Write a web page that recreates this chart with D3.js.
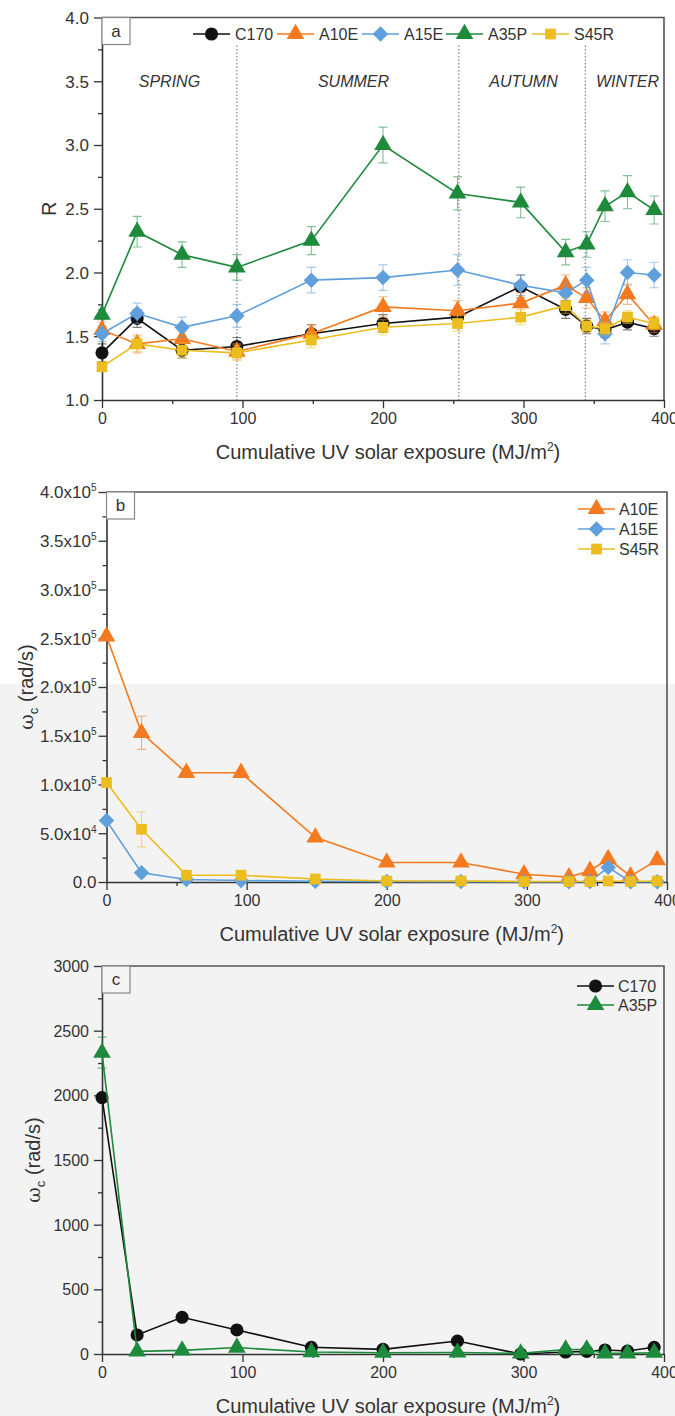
<!DOCTYPE html>
<html>
<head>
<meta charset="utf-8">
<script src="https://cdn.jsdelivr.net/npm/d3@7"></script>
<style>
  html, body { margin: 0; padding: 0; background: #fff; }
  svg { display: block; }
  text { font-family: "Liberation Sans", Arial, sans-serif; fill: #333; }
</style>
</head>
<body>
<svg id="fig" width="675" height="1416"></svg>
<script>
// ---------- data ----------
const exposure = [0, 25, 57, 96, 149, 200, 253, 298, 330, 345, 358, 374, 393];

// panel a: R
const rC170 = [1.37, 1.64, 1.39, 1.42, 1.52, 1.60, 1.65, 1.89, 1.71, 1.58, 1.55, 1.61, 1.56];
const rC170Err = [0.07, 0.07, 0.06, 0.07, 0.07, 0.07, 0.07, 0.09, 0.07, 0.06, 0.06, 0.06, 0.06];
const rA10E = [1.55, 1.44, 1.48, 1.38, 1.52, 1.73, 1.70, 1.76, 1.90, 1.80, 1.62, 1.83, 1.59];
const rA10EErr = [0.06, 0.07, 0.06, 0.06, 0.07, 0.08, 0.08, 0.08, 0.08, 0.08, 0.07, 0.08, 0.06];
const rA15E = [1.52, 1.68, 1.57, 1.66, 1.94, 1.96, 2.02, 1.90, 1.84, 1.94, 1.52, 2.00, 1.98];
const rA15EErr = [0.06, 0.08, 0.08, 0.09, 0.10, 0.10, 0.12, 0.08, 0.08, 0.10, 0.08, 0.10, 0.10];
const rA35P = [1.67, 2.32, 2.14, 2.04, 2.25, 3.00, 2.62, 2.55, 2.16, 2.22, 2.52, 2.63, 2.49];
const rA35PErr = [0.04, 0.12, 0.10, 0.10, 0.11, 0.14, 0.13, 0.12, 0.10, 0.10, 0.12, 0.13, 0.11];
const rS45R = [1.26, 1.44, 1.39, 1.37, 1.47, 1.57, 1.60, 1.65, 1.74, 1.58, 1.56, 1.65, 1.60];
const rS45RErr = [0.03, 0.06, 0.06, 0.06, 0.06, 0.06, 0.06, 0.06, 0.06, 0.05, 0.05, 0.05, 0.05];

// panel b: crossover frequency (rad/s)
const wA10E = [252000, 153000, 112000, 112000, 45800, 20000, 20000, 8000, 5000, 11500, 23600, 6000, 22500];
const wA10EErr = [0, 17000, 0, 0, 0, 0, 0, 0, 0, 0, 0, 0, 0];
const wA15E = [63000, 9500, 2500, 1500, 800, 500, 400, 300, 300, 500, 15000, 300, 300];
const wA15EErr = [0, 0, 0, 0, 0, 0, 0, 0, 0, 0, 0, 0, 0];
const wS45R = [102000, 54000, 7000, 7000, 3000, 1000, 1000, 500, 500, 500, 1000, 500, 1000];
const wS45RErr = [0, 18000, 0, 0, 0, 0, 0, 0, 0, 0, 0, 0, 0];

// panel c: crossover frequency (rad/s)
const cC170 = [1982, 147, 284, 186, 52, 36, 100, 0, 15, 20, 31, 23, 52];
const cC170Err = [0, 0, 0, 0, 0, 0, 0, 0, 0, 0, 0, 0, 0];
const cA35P = [2330, 20, 28, 50, 15, 10, 12, 5, 35, 35, 5, 5, 10];
const cA35PErr = [120, 0, 0, 0, 0, 0, 0, 0, 0, 0, 0, 0, 0];

// axes
const xTicks = [0, 100, 200, 300, 400];
const xMinor = [50, 150, 250, 350];
const rTicks = [1.0, 1.5, 2.0, 2.5, 3.0, 3.5, 4.0];
const rMinor = [1.25, 1.75, 2.25, 2.75, 3.25, 3.75];
const wTicks = [0, 50000, 100000, 150000, 200000, 250000, 300000, 350000, 400000];
const wMinor = [25000, 75000, 125000, 175000, 225000, 275000, 325000, 375000];
const cTicks = [0, 500, 1000, 1500, 2000, 2500, 3000];
const cMinor = [250, 750, 1250, 1750, 2250, 2750];

// season boundaries and labels
const seasonBounds = [96, 254, 344];
const seasonNames = ["SPRING", "SUMMER", "AUTUMN", "WINTER"];
const seasonCenters = [48, 179, 300, 374];

const xTitle = "Cumulative UV solar exposure (MJ/m";

// ---------- style ----------
const colors = { C170: "#111111", A10E: "#f47a1f", A15E: "#5f9fdc", A35P: "#1e8a3c", S45R: "#ebbd1e" };
const symbols = {
  C170: { type: d3.symbolCircle, size: 135, rot: 0 },
  A10E: { type: d3.symbolTriangle, size: 135, rot: 0 },
  A15E: { type: d3.symbolSquare, size: 120, rot: 45 },
  A35P: { type: d3.symbolTriangle, size: 135, rot: 0 },
  S45R: { type: d3.symbolSquare, size: 115, rot: 0 }
};

const svg = d3.select("#fig");

// lower part of the page carries a faint grey tint
svg.append("rect").attr("x", 0).attr("y", 684).attr("width", 675).attr("height", 732).attr("fill", "#f3f3f3");

function drawMarker(g, name, cx, cy, scale = 1) {
  const s = symbols[name];
  g.append("path")
    .attr("d", d3.symbol().type(s.type).size(s.size * scale)())
    .attr("transform", `translate(${cx},${cy}) rotate(${s.rot})`)
    .attr("fill", colors[name]);
}

function panel(cfg) {
  const g = svg.append("g");
  const x = d3.scaleLinear().domain([0, 400]).range([cfg.x0, cfg.x1]);
  const y = d3.scaleLinear().domain(cfg.yDomain).range([cfg.yBottom, cfg.yTop]);

  // frame: top and right edges
  g.append("path")
    .attr("d", `M${cfg.x0},${cfg.yTop}H${cfg.x1}V${cfg.yBottom}`)
    .attr("fill", "none").attr("stroke", "#555").attr("stroke-width", 1.6);

  // minor ticks
  g.append("g").attr("transform", `translate(0,${cfg.yBottom})`)
    .call(d3.axisBottom(x).tickValues(xMinor).tickSize(4).tickFormat(""))
    .call(a => { a.select(".domain").remove(); a.selectAll("line").attr("stroke", "#333").attr("stroke-width", 1.3); });
  g.append("g").attr("transform", `translate(${cfg.x0},0)`)
    .call(d3.axisLeft(y).tickValues(cfg.yMinor).tickSize(4).tickFormat(""))
    .call(a => { a.select(".domain").remove(); a.selectAll("line").attr("stroke", "#333").attr("stroke-width", 1.3); });

  // major axes
  const ax = g.append("g").attr("transform", `translate(0,${cfg.yBottom})`)
    .call(d3.axisBottom(x).tickValues(xTicks).tickSize(8).tickSizeOuter(0).tickPadding(5).tickFormat(d3.format("d")));
  ax.select(".domain").attr("stroke", "#333").attr("stroke-width", 1.6);
  ax.selectAll("line").attr("stroke", "#333").attr("stroke-width", 1.3);
  ax.selectAll("text").attr("font-size", 16).attr("fill", "#333")
    .attr("font-family", '"Liberation Sans", Arial, sans-serif');

  const ay = g.append("g").attr("transform", `translate(${cfg.x0},0)`)
    .call(d3.axisLeft(y).tickValues(cfg.yTicks).tickSize(8).tickSizeOuter(0).tickPadding(5).tickFormat(""));
  ay.select(".domain").attr("stroke", "#333").attr("stroke-width", 1.6);
  ay.selectAll("line").attr("stroke", "#333").attr("stroke-width", 1.3);
  ay.selectAll(".tick").each(function (d) {
    const t = d3.select(this).append("text")
      .attr("x", -13).attr("dy", "0.35em").attr("text-anchor", "end")
      .attr("font-size", cfg.yFont).attr("fill", "#333")
      .attr("font-family", '"Liberation Sans", Arial, sans-serif');
    cfg.yFormat(t, d);
  });

  // x axis title
  const xt = g.append("text").attr("x", (cfg.x0 + cfg.x1) / 2 + 5).attr("y", cfg.yBottom + 59)
    .attr("text-anchor", "middle").attr("font-size", 20).attr("fill", "#333");
  xt.append("tspan").text(xTitle);
  xt.append("tspan").attr("font-size", 12).attr("dy", -8).text("2");
  xt.append("tspan").attr("dy", 8).text(")");

  // y axis title
  const yt = g.append("text")
    .attr("transform", `translate(${cfg.yTitleX},${(cfg.yTop + cfg.yBottom) / 2}) rotate(-90)`)
    .attr("text-anchor", "middle").attr("font-size", 20).attr("fill", "#333");
  cfg.yTitle(yt);

  // panel letter box
  g.append("rect").attr("x", cfg.x0).attr("y", cfg.yTop).attr("width", 28).attr("height", 27)
    .attr("fill", cfg.boxFill).attr("stroke", "#888").attr("stroke-width", 1.2);
  g.append("text").attr("x", cfg.x0 + 14).attr("y", cfg.yTop + 19).attr("text-anchor", "middle")
    .attr("font-size", 17).attr("fill", "#333").text(cfg.letter);

  return { g, x, y };
}

function drawSeries(p, name, values, errs) {
  const pts = exposure.map((e, i) => ({ x: e, y: values[i], e: errs[i] }));
  const col = colors[name];
  const eg = p.g.append("g").attr("stroke", col).attr("stroke-opacity", 0.55).attr("stroke-width", 1.1).attr("fill", "none");
  pts.filter(d => d.e > 0).forEach(d => {
    const cx = p.x(d.x), y1 = p.y(d.y - d.e), y2 = p.y(d.y + d.e);
    eg.append("path").attr("d", `M${cx},${y1}V${y2}M${cx - 4.5},${y1}H${cx + 4.5}M${cx - 4.5},${y2}H${cx + 4.5}`);
  });
  p.g.append("path").datum(pts)
    .attr("d", d3.line().x(d => p.x(d.x)).y(d => p.y(d.y)))
    .attr("fill", "none").attr("stroke", col).attr("stroke-width", 1.6);
  const mg = p.g.append("g");
  pts.forEach(d => drawMarker(mg, name, p.x(d.x), p.y(d.y)));
}

// ---------- panel a ----------
const pa = panel({
  x0: 102, x1: 664, yTop: 17.5, yBottom: 400,
  yDomain: [1, 4], yTicks: rTicks, yMinor: rMinor, yFont: 17,
  yFormat: (t, d) => t.text(d3.format(".1f")(d)),
  yTitleX: 56,
  yTitle: t => t.text("R"),
  letter: "a", boxFill: "#fff"
});

// season dividers
seasonBounds.forEach(b => {
  pa.g.append("line").attr("x1", pa.x(b)).attr("x2", pa.x(b)).attr("y1", pa.y(3.78)).attr("y2", pa.y(1))
    .attr("stroke", "#777").attr("stroke-width", 1.1).attr("stroke-dasharray", "1.5,2");
});
seasonNames.forEach((s, i) => {
  pa.g.append("text").attr("x", pa.x(seasonCenters[i])).attr("y", pa.y(3.5) + 6)
    .attr("text-anchor", "middle").attr("font-size", 16).attr("font-style", "italic")
    .attr("fill", "#333").text(s);
});

drawSeries(pa, "C170", rC170, rC170Err);
drawSeries(pa, "A10E", rA10E, rA10EErr);
drawSeries(pa, "A15E", rA15E, rA15EErr);
drawSeries(pa, "A35P", rA35P, rA35PErr);
drawSeries(pa, "S45R", rS45R, rS45RErr);

// legend a (single row)
const legendA = ["C170", "A10E", "A15E", "A35P", "S45R"];
const legendAStart = [193, 277, 362, 446, 532];
legendA.forEach((n, i) => {
  const lx = legendAStart[i], ly = 34;
  pa.g.append("line").attr("x1", lx).attr("x2", lx + 37).attr("y1", ly).attr("y2", ly)
    .attr("stroke", colors[n]).attr("stroke-width", 1.6);
  drawMarker(pa.g, n, lx + 18.5, ly);
  pa.g.append("text").attr("x", lx + 42).attr("y", ly + 6).attr("font-size", 16).attr("fill", "#333").text(n);
});

// ---------- panel b ----------
function sciFormat(t, d) {
  if (d === 0) { t.text("0.0"); return; }
  const e = Math.floor(Math.log10(d));
  const m = d / Math.pow(10, e);
  t.append("tspan").text(m.toFixed(1) + "x10");
  t.append("tspan").attr("font-size", 10).attr("dy", -7).text(e);
}

const pb = panel({
  x0: 106.5, x1: 667, yTop: 492, yBottom: 882,
  yDomain: [0, 400000], yTicks: wTicks, yMinor: wMinor, yFont: 17,
  yFormat: (t, d) => { t.attr("x", -10); sciFormat(t, d); },
  yTitleX: 33,
  yTitle: t => {
    t.append("tspan").attr("font-family", "DejaVu Serif, serif").attr("font-size", 19).text("ω");
    t.append("tspan").attr("font-size", 13).attr("dy", 5).text("c");
    t.append("tspan").attr("dy", -5).text(" (rad/s)");
  },
  letter: "b", boxFill: "#fff"
});
drawSeries(pb, "A10E", wA10E, wA10EErr);
drawSeries(pb, "A15E", wA15E, wA15EErr);
drawSeries(pb, "S45R", wS45R, wS45RErr);

function vLegend(p, names, lx, y0, dy) {
  names.forEach((n, i) => {
    const ly = y0 + i * dy;
    p.g.append("line").attr("x1", lx).attr("x2", lx + 37).attr("y1", ly).attr("y2", ly)
      .attr("stroke", colors[n]).attr("stroke-width", 1.6);
    drawMarker(p.g, n, lx + 18.5, ly);
    p.g.append("text").attr("x", lx + 41).attr("y", ly + 6).attr("font-size", 16).attr("fill", "#333").text(n);
  });
}
vLegend(pb, ["A10E", "A15E", "S45R"], 578, 509, 20);

// ---------- panel c ----------
const pc = panel({
  x0: 102, x1: 664, yTop: 966, yBottom: 1354,
  yDomain: [0, 3000], yTicks: cTicks, yMinor: cMinor, yFont: 16,
  yFormat: (t, d) => t.text(d3.format("d")(d)),
  yTitleX: 40,
  yTitle: t => {
    t.append("tspan").attr("font-family", "DejaVu Serif, serif").attr("font-size", 19).text("ω");
    t.append("tspan").attr("font-size", 13).attr("dy", 5).text("c");
    t.append("tspan").attr("dy", -5).text(" (rad/s)");
  },
  letter: "c", boxFill: "#f5f5f5"
});
drawSeries(pc, "C170", cC170, cC170Err);
drawSeries(pc, "A35P", cA35P, cA35PErr);
vLegend(pc, ["C170", "A35P"], 577, 986, 19);
</script>
</body>
</html>
